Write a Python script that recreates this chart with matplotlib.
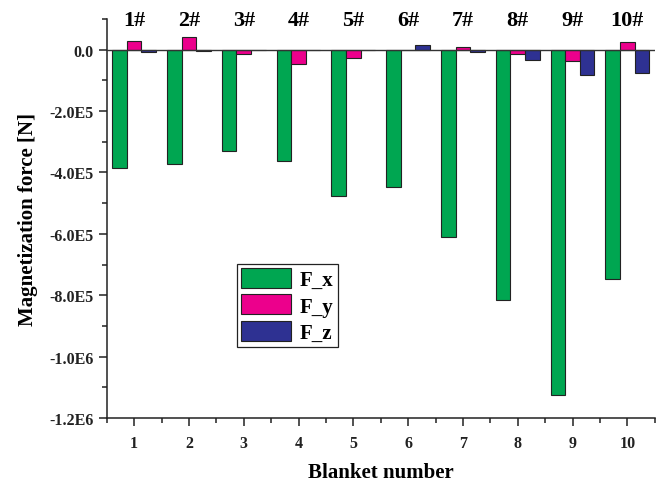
import numpy as np
from matplotlib import pyplot as plt
from matplotlib.ticker import MultipleLocator, FixedLocator

plt.rcParams.update({
    "font.family": ["Liberation Serif", "DejaVu Serif"],
    "font.weight": "bold",
    "axes.labelweight": "bold",
})

blankets = np.arange(1, 11)
group_labels = ["1#", "2#", "3#", "4#", "5#", "6#", "7#", "8#", "9#", "10#"]
f_x = [-3.85e5, -3.71e5, -3.31e5, -3.62e5, -4.76e5, -4.48e5, -6.09e5, -8.15e5, -1.125e6, -7.46e5]
f_y = [2.7e4, 4.0e4, -1.5e4, -4.8e4, -2.8e4, -1e3, 8e3, -1.5e4, -3.8e4, 2.4e4]
f_z = [-6e3, -5e3, -1e3, -1e3, -1e3, 1.4e4, -8e3, -3.5e4, -8.2e4, -7.7e4]
ytick_vals = [0, -2e5, -4e5, -6e5, -8e5, -1e6, -1.2e6]
ytick_labels = ["0.0", "-2.0E5", "-4.0E5", "-6.0E5", "-8.0E5", "-1.0E6", "-1.2E6"]

fig = plt.figure(figsize=(6.64, 4.85), dpi=100)
ax = fig.add_axes([0.1607, 0.136, 0.8253, 0.8228])

w = 0.267
edge = "#222222"
ax.bar(blankets - w, f_x, w, color="#00A651", edgecolor=edge, linewidth=0.8, label="F_x", zorder=2)
ax.bar(blankets, f_y, w, color="#EC008C", edgecolor=edge, linewidth=0.8, label="F_y", zorder=2)
ax.bar(blankets + w, f_z, w, color="#2E3192", edgecolor=edge, linewidth=0.8, label="F_z", zorder=2)
ax.axhline(0, color="#333333", linewidth=1.0, zorder=3)

for xi, lab in zip(blankets, group_labels):
    ax.text(xi, 0.9975, lab, transform=ax.get_xaxis_transform(), ha="center", va="center",
            fontsize=16, fontweight="bold")

ax.set_xlim(0.5, 10.5)
ax.set_ylim(-1.2e6, 1e5)
ax.set_xticks(blankets)
ax.set_xticklabels([str(b) for b in blankets])
ax.xaxis.set_minor_locator(MultipleLocator(0.5))
ax.set_yticks(ytick_vals)
ax.set_yticklabels(ytick_labels)
ax.yaxis.set_minor_locator(FixedLocator(np.arange(-1.1e6, 1.5e5, 2e5)))

for side in ["top", "right"]:
    ax.spines[side].set_visible(False)
for side in ["left", "bottom"]:
    ax.spines[side].set_linewidth(1.1)
    ax.spines[side].set_color("#222222")
ax.tick_params(which="major", direction="out", length=6, width=1.1, labelsize=11.5, colors="#222222")
ax.tick_params(which="minor", direction="out", length=3.5, width=1.1, colors="#222222")
ax.tick_params(axis="x", pad=6)

ax.set_xlabel("Blanket number", fontsize=15, labelpad=8)
ax.set_ylabel("Magnetization force [N]", fontsize=15, labelpad=8)

leg = ax.legend(loc="upper left", bbox_to_anchor=(0.238, 0.386), borderaxespad=0,
                fontsize=15, fancybox=False, edgecolor="#222222", framealpha=1,
                handlelength=2.4, handleheight=1.1, labelspacing=0.2,
                borderpad=0.2, handletextpad=0.4)
leg.get_frame().set_linewidth(0.9)

fig.savefig("out.png", dpi=100)
